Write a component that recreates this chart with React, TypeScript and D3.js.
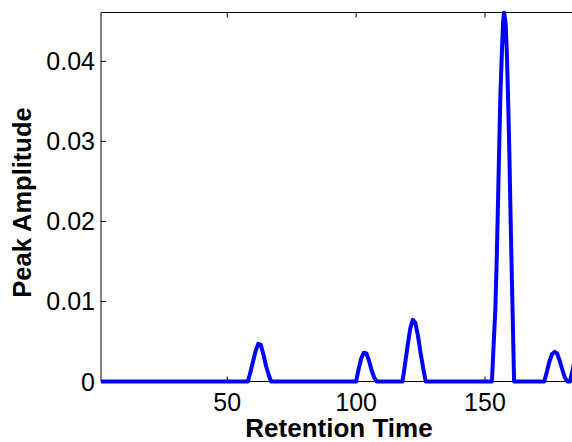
import React from "react";
import * as d3 from "d3";

// Retention time / amplitude points (baseline zeros between peaks)
const retentionTime = [
  1, 58, 59, 60, 61, 62, 63, 64, 65, 66, 67,
  100, 101, 102, 103, 104, 105, 106, 107, 108,
  118, 119, 120, 121, 122, 123, 124, 125, 126, 127,
  152.7, 153.3, 154, 154.5, 155, 155.5, 156, 156.5, 157, 157.4, 158, 158.5, 159, 159.5, 160, 160.6, 161.3,
  173, 174, 175, 176, 177, 178, 179, 180, 181, 182, 183, 184, 185,
];
const amplitude = [
  0, 0, 0.0012, 0.0025, 0.0038, 0.0047, 0.0046, 0.0034, 0.002, 0.0009, 0,
  0, 0.0016, 0.0029, 0.0036, 0.0035, 0.0026, 0.0014, 0.0005, 0,
  0, 0.0022, 0.0045, 0.0066, 0.0077, 0.0073, 0.0057, 0.0036, 0.0017, 0,
  0, 0.0042, 0.0088, 0.0145, 0.0215, 0.029, 0.036, 0.0405, 0.0448, 0.0461, 0.0448, 0.041, 0.035, 0.028, 0.0195, 0.0105, 0,
  0, 0.0012, 0.0025, 0.0034, 0.0037, 0.0035, 0.0026, 0.0015, 0.0005, 0, 0, 0.0014, 0.003,
];
const xTicks = [50, 100, 150];
const yTicks = [0, 0.01, 0.02, 0.03, 0.04];
const xTickLabels = ["50", "100", "150"];
const yTickLabels = ["0", "0.01", "0.02", "0.03", "0.04"];
const xLabel = "Retention Time";
const yLabel = "Peak Amplitude";

export default function App() {
  const W = 572, H = 442;
  const left = 101, top = 12.5, bottom = 381.5;
  const pxPerUnit = 2.577;
  const xMax = 200;
  const x = d3.scaleLinear().domain([1, xMax]).range([left, left + (xMax - 1) * pxPerUnit]);
  const y = d3.scaleLinear().domain([0, 0.0461]).range([bottom, top]);
  const pts = retentionTime.map((t, i) => [t, amplitude[i]] as [number, number]);
  const line = d3.line<[number, number]>().x(d => x(d[0])).y(d => y(d[1]));
  const right = x(xMax);
  const font = "'Liberation Sans', Arial, sans-serif";
  const tl = 5;
  return (
    <svg width={W} height={H} style={{ position: "absolute", left: 0, top: 0, background: "#fff" }}>
      <rect x={0} y={0} width={W} height={H} fill="#fff" />
      <defs>
        <clipPath id="plotClip">
          <rect x={left} y={top - 2} width={right - left} height={bottom - top + 6} />
        </clipPath>
      </defs>
      {/* axes box */}
      <line x1={left} y1={top} x2={right} y2={top} stroke="#000" strokeWidth={1} />
      <line x1={left} y1={bottom} x2={right} y2={bottom} stroke="#000" strokeWidth={1} />
      <line x1={left} y1={top} x2={left} y2={bottom} stroke="#000" strokeWidth={1} />
      {xTicks.map((t, i) => (
        <g key={"xt" + i}>
          <line x1={x(t)} x2={x(t)} y1={bottom} y2={bottom - tl} stroke="#000" />
          <line x1={x(t)} x2={x(t)} y1={top} y2={top + tl} stroke="#000" />
          <text x={x(t)} y={411} textAnchor="middle" fontFamily={font} fontSize={25} fill="#000">
            {xTickLabels[i]}
          </text>
        </g>
      ))}
      {yTicks.map((t, i) => (
        <g key={"yt" + i}>
          <line x1={left} x2={left + tl} y1={y(t)} y2={y(t)} stroke="#000" />
          <text x={95} y={y(t) + 9} textAnchor="end" fontFamily={font} fontSize={25} fill="#000">
            {yTickLabels[i]}
          </text>
        </g>
      ))}
      <path
        d={line(pts) || ""}
        fill="none"
        stroke="#0000ff"
        strokeWidth={4}
        strokeLinejoin="round"
        clipPath="url(#plotClip)"
      />
      <text x={339} y={437} textAnchor="middle" fontFamily={font} fontSize={26} fontWeight="bold" fill="#000">
        {xLabel}
      </text>
      <text
        transform={`translate(31,202.5) rotate(-90)`}
        textAnchor="middle"
        fontFamily={font}
        fontSize={25.5}
        fontWeight="bold"
        fill="#000"
      >
        {yLabel}
      </text>
    </svg>
  );
}
